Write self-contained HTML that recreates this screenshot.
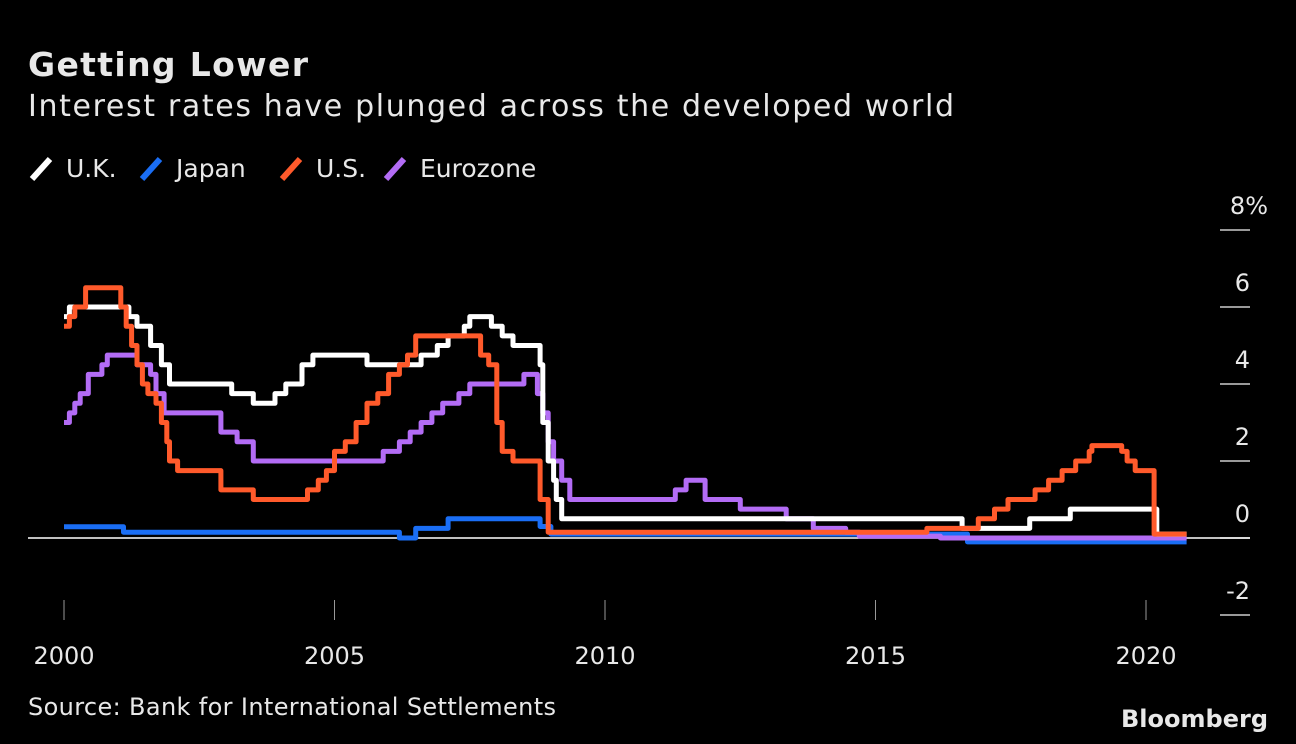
<!DOCTYPE html>
<html><head><meta charset="utf-8"><style>
html,body{margin:0;padding:0;background:#000;width:1296px;height:744px;overflow:hidden}
svg{display:block}
text{font-family:"DejaVu Sans","Liberation Sans",sans-serif;fill:#e8e8e8}
</style></head><body>
<svg id="chart" width="1296" height="744">
<text x="28" y="76" font-size="33" font-weight="bold" fill="#fff" textLength="280">Getting Lower</text>
<text x="28" y="116" font-size="30" textLength="926">Interest rates have plunged across the developed world</text>
<g id="legend"></g>
<g id="axes"></g>
<g id="series"></g>
<text x="28" y="715" font-size="24" fill="#ccc" textLength="528">Source: Bank for International Settlements</text>
<text x="1268" y="727" font-size="24" font-weight="bold" text-anchor="end" fill="#ccc">Bloomberg</text>
</svg>
<script>
const seriesNames=["U.K.","Japan","U.S.","Eurozone"];
const seriesColors=["#ffffff","#1a6ef5","#ff5a2b","#b36cf5"];
const ukData=[[2000,5.75],[2000.1,6],[2001.1,6],[2001.2,5.75],[2001.35,5.5],[2001.6,5.0],[2001.8,4.5],[2001.95,4.0],[2003.1,3.75],[2003.5,3.5],[2003.9,3.75],[2004.1,4.0],[2004.4,4.5],[2004.6,4.75],[2005.6,4.5],[2006.6,4.75],[2006.9,5.0],[2007.1,5.25],[2007.4,5.5],[2007.5,5.75],[2007.9,5.5],[2008.1,5.25],[2008.3,5.0],[2008.8,4.5],[2008.85,3.0],[2008.95,2.0],[2009.05,1.5],[2009.1,1.0],[2009.2,0.5],[2016.6,0.25],[2017.85,0.5],[2018.6,0.75],[2020.2,0.1],[2020.75,0.1]];
const japanData=[[2000,0.29],[2001.1,0.15],[2006.2,0.0],[2006.5,0.25],[2007.1,0.5],[2008.8,0.3],[2009.0,0.1],[2016.7,-0.1],[2020.75,-0.1]];
const usData=[[2000,5.5],[2000.1,5.75],[2000.2,6.0],[2000.4,6.5],[2001.0,6.5],[2001.05,6.0],[2001.15,5.5],[2001.25,5.0],[2001.35,4.5],[2001.45,4.0],[2001.55,3.75],[2001.7,3.5],[2001.8,3.0],[2001.9,2.5],[2001.95,2.0],[2002.1,1.75],[2002.9,1.25],[2003.5,1.0],[2004.5,1.25],[2004.7,1.5],[2004.85,1.75],[2005.0,2.25],[2005.2,2.5],[2005.4,3.0],[2005.6,3.5],[2005.8,3.75],[2006.0,4.25],[2006.2,4.5],[2006.35,4.75],[2006.5,5.25],[2007.7,4.75],[2007.85,4.5],[2008.0,3.0],[2008.1,2.25],[2008.3,2.0],[2008.8,1.0],[2008.95,0.15],[2015.95,0.25],[2016.9,0.5],[2017.2,0.75],[2017.45,1.0],[2017.95,1.25],[2018.2,1.5],[2018.45,1.75],[2018.7,2.0],[2018.95,2.25],[2019.0,2.4],[2019.55,2.25],[2019.65,2.0],[2019.8,1.75],[2020.15,0.1],[2020.75,0.1]];
const euroData=[[2000,3.0],[2000.1,3.25],[2000.2,3.5],[2000.3,3.75],[2000.45,4.25],[2000.7,4.5],[2000.8,4.75],[2001.35,4.5],[2001.6,4.25],[2001.7,3.75],[2001.85,3.25],[2002.9,2.75],[2003.2,2.5],[2003.5,2.0],[2005.9,2.25],[2006.2,2.5],[2006.4,2.75],[2006.6,3.0],[2006.8,3.25],[2007.0,3.5],[2007.3,3.75],[2007.5,4.0],[2008.5,4.25],[2008.75,3.75],[2008.85,3.25],[2008.95,2.5],[2009.05,2.0],[2009.2,1.5],[2009.35,1.0],[2011.3,1.25],[2011.5,1.5],[2011.85,1.0],[2012.5,0.75],[2013.35,0.5],[2013.85,0.25],[2014.45,0.15],[2014.7,0.05],[2016.2,0.0],[2020.75,0.0]];
const allData=[ukData,japanData,usData,euroData];
const yTicks=[8,6,4,2,0,-2];
const yTickLabels=["8%","6","4","2","0","-2"];
const xTicks=[2000,2005,2010,2015,2020];
const X=y=>64+(y-2000)*54.1;
const Y=v=>538-v*38.5;
const ns="http://www.w3.org/2000/svg";
function mk(t,a,p){const e=document.createElementNS(ns,t);for(const k in a)e.setAttribute(k,a[k]);p.appendChild(e);return e;}
const axes=document.getElementById('axes');
yTicks.forEach((v,i)=>{
  const l=mk('line',{x1:1220,x2:1250,y1:Y(v),y2:Y(v),stroke:'#ccc','stroke-width':1.5},axes);
  
  
  const t=mk('text',{x:v===8?1268:1250,y:Y(v)-16,'font-size':24,'text-anchor':'end'},axes);
  t.textContent=yTickLabels[i];
  
  
});
xTicks.forEach(v=>{
  const l=mk('line',{x1:X(v),x2:X(v),y1:600,y2:620,stroke:'#999','stroke-width':1},axes);
  
  
  const t=mk('text',{x:X(v),y:664,'font-size':24,'text-anchor':'middle'},axes);
  t.textContent=v;
  
  
});
const zl=mk('line',{x1:28,x2:1250,y1:Y(0),y2:Y(0),stroke:'#fff','stroke-width':1.5},axes);


const sg=document.getElementById('series');
[1,3,0,2].forEach(i=>{
  const d=allData[i];let p='';
  d.forEach((pt,j)=>{
    if(j===0)p+='M'+X(pt[0]).toFixed(1)+' '+Y(pt[1]).toFixed(1);
    else p+='H'+X(pt[0]).toFixed(1)+'V'+Y(pt[1]).toFixed(1);
  });
  const path=mk('path',{d:p,fill:'none',stroke:seriesColors[i],'stroke-width':5,'stroke-linejoin':'round'},sg);
  
  
});
const lg=document.getElementById('legend');
const lx=[30,140,280,384];
seriesNames.forEach((n,i)=>{
  const l=mk('line',{x1:lx[i]+2,y1:179,x2:lx[i]+20,y2:159,stroke:seriesColors[i],'stroke-width':6},lg);
  
  
  const t=mk('text',{x:lx[i]+36,y:177,'font-size':25},lg);
  t.textContent=n;
  
  
});
</script>
</body></html>
